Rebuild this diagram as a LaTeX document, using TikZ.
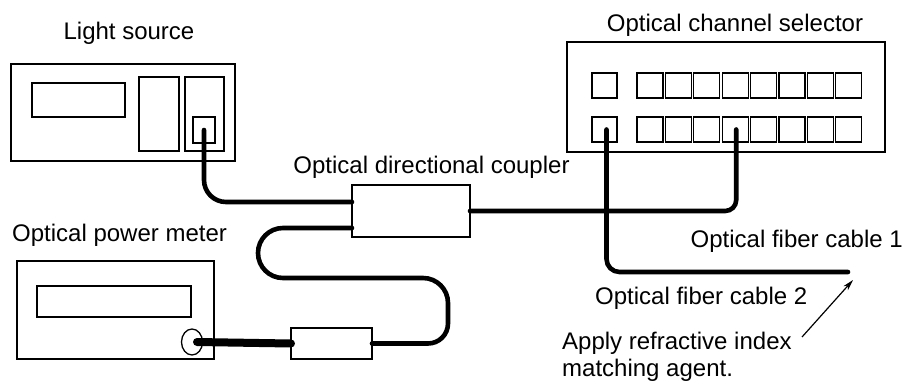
\documentclass[tikz,border=0pt]{standalone}
\usepackage{fontspec}
\setmainfont{Liberation Sans}
\usetikzlibrary{shapes.geometric,arrows.meta}
\begin{document}
\begin{tikzpicture}[x=1bp,y=-1bp,
  dev/.style={draw, line width=1.3bp, inner sep=0pt, outer sep=0pt, anchor=north west},
  fiber/.style={line width=4.6bp, line cap=round, rounded corners=#1},
  fiber/.default=14bp,
  lbl/.style={font=\fontsize{24bp}{27.6bp}\selectfont, inner sep=0pt}]
\useasboundingbox (0,0) rectangle (907,383);

% ---------- Light source ----------
\node[dev, minimum width=224bp, minimum height=97bp] (ls) at (11,64) {};
\node[dev, minimum width=93bp, minimum height=34bp] (lsdisp) at (32,83) {};
\node[dev, minimum width=40bp, minimum height=74bp] (lsmid) at (139,77) {};
\node[dev, minimum width=39bp, minimum height=74bp] (lsright) at (185,77) {};
\node[dev, minimum width=22bp, minimum height=26bp] (lsport) at (193,117) {};
\node[lbl, anchor=base] (tls) at (129,39) {Light source};

% ---------- Optical channel selector ----------
\node[dev, minimum width=318bp, minimum height=110bp] (sel) at (567,42) {};
\node[dev, minimum width=25bp, minimum height=25bp] (s0t) at (592,73) {};
\node[dev, minimum width=25bp, minimum height=25bp] (s0b) at (592,117) {};
\foreach \i in {1,...,8}{
  \node[dev, minimum width=26bp, minimum height=25bp] (s\i t) at ({637+28.4*(\i-1)},73) {};
  \node[dev, minimum width=26bp, minimum height=25bp] (s\i b) at ({637+28.4*(\i-1)},117) {};
}
\node[lbl, anchor=base] (tsel) at (735,31) {Optical channel selector};

% ---------- Optical directional coupler ----------
\node[dev, minimum width=118bp, minimum height=52bp] (cpl) at (352,185) {};
\coordinate (cplA) at (352,202);
\coordinate (cplB) at (352,228);
\node[lbl, anchor=base] (tcpl) at (431.5,173) {Optical directional coupler};

% ---------- Optical power meter ----------
\node[dev, minimum width=197bp, minimum height=98bp] (pm) at (17,261) {};
\node[dev, minimum width=154bp, minimum height=31bp] (pmdisp) at (37,286) {};
\node[draw, ellipse, line width=1.3bp, inner sep=0pt, minimum width=21bp, minimum height=26bp] (pmport) at (192,342) {};
\node[dev, minimum width=81bp, minimum height=31bp] (pmbox) at (291,328) {};
\node[lbl, anchor=base west] (tpm) at (12,241) {Optical power meter};

% ---------- Fibers ----------
\draw[fiber=22bp] (lsport.center) |- (cplA);
\draw[fiber=25bp] (cplB) -- (258,228) -- (258,278) -- (448,278) [rounded corners=20bp] -- (448,343.5) -- (pmbox.east);
\draw[line width=8bp, line cap=round] ([xshift=5bp]pmport.center) -- (pmbox.west);
\draw[fiber=11bp] (cpl.east) -| ([xshift=1bp]s4b.center);
\coordinate (f1end) at (848,272);
\draw[fiber=13bp] ([xshift=2bp]s0b.center) |- (f1end);

% ---------- Cable labels ----------
\node[lbl, anchor=base east] (tc1) at (903,247) {Optical fiber cable 1};
\node[lbl, anchor=base west] (tc2) at (595,304) {Optical fiber cable 2};
\node[lbl, anchor=base west] (tapply) at (562,349) {Apply refractive index};
\node[lbl, anchor=base west] (tagent) at (562,376) {matching agent.};

\coordinate (arrTail) at (802,337);
\coordinate (arrTip) at (853,280);
\draw[line width=1.2bp, -{Stealth[length=11bp,width=6bp]}] (arrTail) -- (arrTip);
\end{tikzpicture}
\end{document}
